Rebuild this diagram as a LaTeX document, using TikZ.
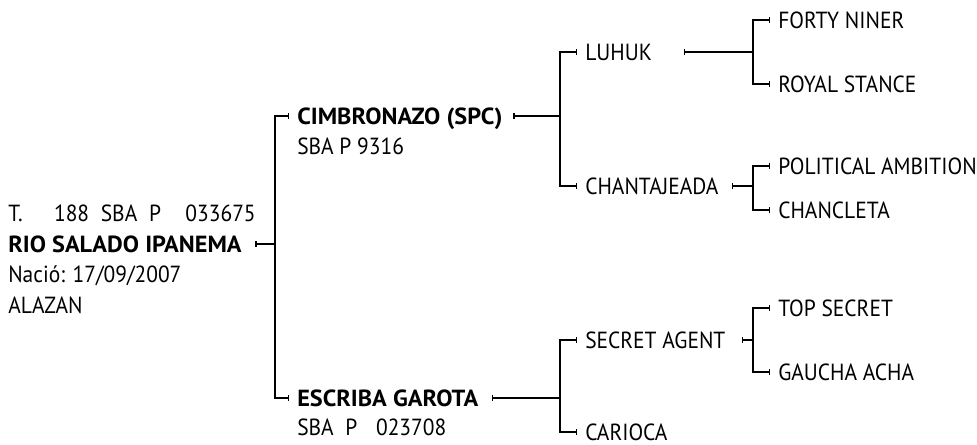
\documentclass[tikz,border=0pt]{standalone}
\usepackage{fontspec}
\setmainfont{PT Sans}[UprightFeatures={FakeStretch=0.92},
                      BoldFeatures={FakeStretch=1.04}]
\usetikzlibrary{positioning, arrows.meta}

\begin{document}
\begin{tikzpicture}[x=0.75pt,y=-0.75pt,
        horse/.style={anchor=west,inner sep=0pt,
                      font=\fontsize{17.5}{21}\selectfont,
                      text height=12.2pt,text depth=0pt},
        sire/.style={horse,font=\fontsize{17.5}{21}\selectfont\bfseries},
        link/.style={{Bar[width=4pt]}-{Bar[width=4pt]},line width=1pt,
                     shorten <=10pt,shorten >=6pt}]
    \useasboundingbox (0,0) rectangle (977,445);
    \coordinate (b1) at (275,0);
    \coordinate (b2) at (560,0);
    \coordinate (b3) at (753,0);

    \node[sire] (rio) at (8,244) {RIO SALADO IPANEMA};
    \node[horse,above=23pt of rio.west,anchor=west] (regno)
        {T.\hspace{1.35em}188\hspace{0.5em}SBA\hspace{0.5em}P\hspace{1.05em}033675};
    \node[horse,below=23pt of rio.west,anchor=west] (born) {Nació: 17/09/2007};
    \node[horse,below=23pt of born.west,anchor=west] (coat) {ALAZAN};

    \node[sire] (cim) at (297,116) {CIMBRONAZO (SPC)};
    \node[horse,below=23pt of cim.west,anchor=west] (cimreg) {SBA P 9316};
    \node[sire] (esc) at (297,398) {ESCRIBA GAROTA};
    \node[horse,below=22pt of esc.west,anchor=west] (escreg)
        {SBA\hspace{0.5em}P\hspace{0.8em}023708};

    \node[horse] (luhuk) at (585,52) {LUHUK};
    \node[horse] (chant) at (585,186) {CHANTAJEADA};
    \node[horse] (agent) at (585,340) {SECRET AGENT};
    \node[horse] (carioca) at (585,432) {CARIOCA};

    \node[horse] (forty) at (778,20) {FORTY NINER};
    \node[horse] (royal) at (778,84) {ROYAL STANCE};
    \node[horse] (political) at (778,166) {POLITICAL AMBITION};
    \node[horse] (chancleta) at (778,210) {CHANCLETA};
    \node[horse] (topsecret) at (778,308) {TOP SECRET};
    \node[horse] (gaucha) at (778,372) {GAUCHA ACHA};

    % parents -> brackets -> children
    \draw[link] (rio.east) -| (b1 |- cim.west) -- (cim.west);
    \draw[link] (rio.east) -| (b1 |- esc.west) -- (esc.west);
    \draw[link,shorten <=8pt] (cim.east) -| (b2 |- luhuk.west) -- (luhuk.west);
    \draw[link,shorten <=8pt] (cim.east) -| (b2 |- chant.west) -- (chant.west);
    \draw[link] (esc.east) -| (b2 |- agent.west) -- (agent.west);
    \draw[link] (esc.east) -| (b2 |- carioca.west) -- (carioca.west);
    \draw[link,shorten <=24pt] (luhuk.east) -| (b3 |- forty.west) -- (forty.west);
    \draw[link,shorten <=24pt] (luhuk.east) -| (b3 |- royal.west) -- (royal.west);
    \draw[link] (chant.east) -| (b3 |- political.west) -- (political.west);
    \draw[link] (chant.east) -| (b3 |- chancleta.west) -- (chancleta.west);
    \draw[link,shorten <=12pt] (agent.east) -| (b3 |- topsecret.west) -- (topsecret.west);
    \draw[link,shorten <=12pt] (agent.east) -| (b3 |- gaucha.west) -- (gaucha.west);
\end{tikzpicture}
\end{document}
